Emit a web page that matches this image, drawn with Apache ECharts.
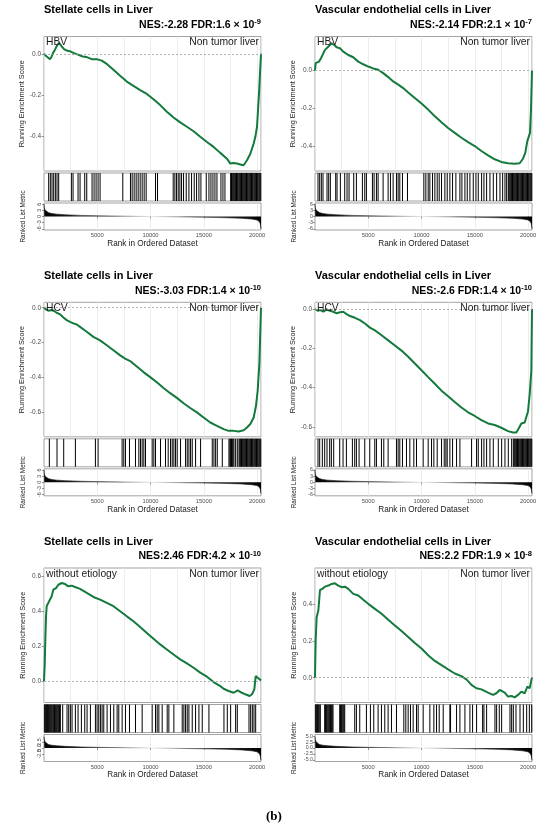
<!DOCTYPE html>
<html><head><meta charset="utf-8">
<script src="https://cdn.jsdelivr.net/npm/echarts@6/dist/echarts.min.js"></script>
<style>html,body{margin:0;padding:0;background:#fff}#c{width:550px;height:834px}</style>
</head><body><div id="c"></div>
<script>
// ---------- DATA ----------
const X_MAX = 20370; // number of ranked genes
const panelTitles = ['Stellate cells in Liver','Vascular endothelial cells in Liver','Stellate cells in Liver','Vascular endothelial cells in Liver','Stellate cells in Liver','Vascular endothelial cells in Liver'];
const nesTexts = ['NES:-2.28 FDR:1.6 × 10','NES:-2.14 FDR:2.1 × 10','NES:-3.03 FDR:1.4 × 10','NES:-2.6 FDR:1.4 × 10','NES:2.46 FDR:4.2 × 10','NES:2.2 FDR:1.9 × 10'];
const fdrExponents = ['-9','-7','-10','-10','-10','-8'];
const groupLabels = ['HBV','HBV','HCV','HCV','without etiology','without etiology'];
const controlLabel = 'Non tumor liver';
const xTicks = [5000,10000,15000,20000];
const esMin = [-0.569,-0.532,-0.74,-0.651,-0.123,-0.134];
const esMax = [0.084,0.18,0.031,0.034,0.648,0.594];
const esTicks = [[-0.4,-0.2,0],[-0.4,-0.2,0],[-0.6,-0.4,-0.2,0],[-0.6,-0.4,-0.2,0],[0,0.2,0.4,0.6],[0,0.2,0.4]];
const metricTicksRow = [[-6,-3,0,3,6],[-6,-3,0,3,6],[-5,-2.5,0,2.5,5]];
const metricRangeRow = [6.6,6.6,5.7];

const hbvStellateCurve = [[0,0],[251,-0.013],[564,-0.026],[721,-0.013],[877,0.007],[1034,0.02],[1254,0.044],[1442,0.052],[1661,0.036],[1880,0.023],[2131,0.016],[2507,0.011],[2821,0.003],[3228,-0.005],[3635,-0.013],[4012,-0.016],[4482,-0.026],[4952,-0.026],[5422,-0.033],[5892,-0.049],[6519,-0.078],[7146,-0.107],[7772,-0.135],[8399,-0.156],[9026,-0.176],[9653,-0.195],[10280,-0.221],[10906,-0.249],[11533,-0.281],[12160,-0.309],[12787,-0.333],[13414,-0.354],[14040,-0.376],[14667,-0.403],[15294,-0.428],[15921,-0.452],[16548,-0.481],[17175,-0.509],[17488,-0.533],[17802,-0.53],[18115,-0.533],[18429,-0.537],[18742,-0.541],[19055,-0.517],[19369,-0.485],[19682,-0.436],[19839,-0.403],[19996,-0.354],[20090,-0.273],[20184,-0.192],[20278,-0.094],[20370,0]];
const hbvVascularCurve = [[0,0],[62,0.039],[187,0.03],[375,0.047],[562,0.065],[781,0.091],[937,0.109],[1093,0.105],[1312,0.13],[1562,0.144],[1812,0.135],[2031,0.123],[2343,0.118],[2655,0.1],[3124,0.082],[3593,0.07],[4061,0.047],[4530,0.033],[4998,0.021],[5467,0.011],[5936,0.004],[6404,-0.014],[6873,-0.035],[7341,-0.058],[7810,-0.075],[8279,-0.093],[8747,-0.116],[9372,-0.146],[9997,-0.175],[10622,-0.207],[11246,-0.242],[11871,-0.274],[12496,-0.304],[13121,-0.33],[13745,-0.356],[14370,-0.379],[14995,-0.4],[15620,-0.426],[16245,-0.449],[16870,-0.47],[17494,-0.484],[18119,-0.491],[18744,-0.493],[19213,-0.491],[19525,-0.467],[19744,-0.435],[19931,-0.374],[20056,-0.365],[20181,-0.33],[20275,-0.207],[20369,0]];
const hcvStellateCurve = [[0,0],[188,-0.01],[407,-0.017],[564,-0.023],[721,-0.013],[940,-0.019],[1191,-0.029],[1504,-0.038],[1818,-0.056],[2131,-0.071],[2445,-0.081],[2758,-0.09],[3071,-0.096],[3385,-0.11],[4012,-0.138],[4638,-0.167],[5265,-0.187],[5892,-0.215],[6519,-0.244],[7146,-0.273],[7616,-0.292],[8086,-0.306],[8713,-0.337],[9339,-0.369],[9966,-0.398],[10593,-0.427],[11220,-0.46],[11847,-0.49],[12473,-0.517],[13100,-0.548],[13727,-0.575],[14354,-0.6],[14981,-0.629],[15608,-0.658],[16235,-0.677],[16862,-0.696],[17332,-0.706],[17802,-0.706],[18272,-0.71],[18742,-0.702],[19055,-0.687],[19369,-0.667],[19682,-0.629],[19902,-0.562],[20058,-0.475],[20215,-0.321],[20370,0]];
const hcvVascularCurve = [[0,0],[250,-0.009],[469,-0.005],[781,-0.014],[1093,-0.002],[1406,-0.009],[1718,-0.014],[2031,-0.022],[2343,-0.017],[2655,-0.014],[2968,-0.026],[3280,-0.036],[3749,-0.045],[4217,-0.057],[4686,-0.074],[5155,-0.095],[5623,-0.109],[6248,-0.134],[6873,-0.16],[7498,-0.186],[8122,-0.212],[8747,-0.243],[9372,-0.278],[9997,-0.312],[10622,-0.347],[11246,-0.381],[11871,-0.416],[12496,-0.445],[13121,-0.474],[13745,-0.502],[14370,-0.526],[14995,-0.545],[15620,-0.566],[16245,-0.583],[16870,-0.591],[17494,-0.605],[18119,-0.622],[18588,-0.629],[18900,-0.629],[19119,-0.609],[19369,-0.583],[19682,-0.578],[19838,-0.583],[19994,-0.522],[20150,-0.436],[20306,-0.316],[20369,0]];
const noEtStellateCurve = [[0,0],[63,0.086],[125,0.238],[188,0.371],[251,0.429],[407,0.448],[564,0.467],[721,0.486],[877,0.524],[1128,0.533],[1348,0.552],[1661,0.562],[1975,0.556],[2288,0.543],[2601,0.547],[2915,0.539],[3385,0.528],[4012,0.505],[4638,0.482],[5265,0.467],[5892,0.448],[6519,0.429],[7146,0.4],[7772,0.371],[8399,0.343],[9026,0.31],[9653,0.276],[10280,0.242],[10906,0.21],[11533,0.181],[12160,0.152],[12787,0.124],[13414,0.101],[14040,0.076],[14667,0.048],[15294,0.025],[15921,-0.006],[16548,-0.029],[16862,-0.044],[17332,-0.057],[17802,-0.067],[18178,-0.053],[18429,-0.063],[18899,-0.076],[19306,-0.086],[19525,-0.076],[19744,-0.048],[19870,0.029],[20058,0.019],[20370,0.004]];
const noEtVascularCurve = [[0,0],[62,0.203],[156,0.328],[312,0.364],[469,0.475],[687,0.481],[937,0.493],[1250,0.499],[1562,0.508],[1874,0.511],[2187,0.499],[2499,0.49],[2812,0.493],[3124,0.481],[3593,0.454],[4061,0.445],[4530,0.422],[4998,0.4],[5623,0.373],[6248,0.346],[6873,0.314],[7498,0.283],[8122,0.253],[8747,0.221],[9372,0.188],[9997,0.158],[10622,0.122],[11246,0.091],[11871,0.068],[12496,0.045],[13121,0.023],[13745,0.009],[14214,-0.009],[14683,-0.039],[15151,-0.057],[15620,-0.063],[16245,-0.081],[16713,-0.093],[17025,-0.084],[17338,-0.066],[17807,-0.081],[18119,-0.102],[18494,-0.099],[18744,-0.106],[19057,-0.093],[19369,-0.075],[19682,-0.084],[19931,-0.048],[20150,-0.057],[20306,-0.066],[20369,0.002]];

const hbvStellateHits = [439,595,752,909,1066,1222,1379,2570,2727,3197,3385,3823,4012,4513,4701,4889,5077,5265,7396,8117,8274,8462,8650,8838,9026,9214,9402,9590,10468,10656,12129,12285,12442,12599,12755,12912,13100,13351,13602,13852,14103,14322,14542,14730,15231,15482,15670,15858,16046,16234,16610,16798,16986,17519,17600,17676,17760,17832,17910,17989,18070,18146,18220,18303,18380,18459,18540,18616,18700,18773,18850,18930,19010,19086,19160,19243,19320,19399,19480,19556,19630,19712,19790,19869,19950,20026,20100,20183,20260,20340];
const hbvVascularHits = [282,439,595,752,1128,1285,1442,1943,2068,2382,2789,3009,3197,3635,3886,4450,4670,4826,5390,5547,5767,5923,6393,6863,7083,7334,7647,7804,7960,8211,8681,10217,10405,10624,10781,11032,11251,11470,11658,11878,12191,12411,12661,12912,13225,13602,13790,14072,14291,14542,14855,15106,15325,15639,15858,16109,16422,16736,17049,17362,17613,17832,17989,18146,18220,18303,18380,18459,18540,18616,18700,18773,18850,18930,19010,19086,19160,19243,19320,19399,19480,19556,19630,19712,19790,19869,19950,20026,20100,20183,20260,20340];
const hcvStellateHits = [501,1222,1849,2946,4826,5077,7334,7490,7647,8023,8587,8901,9057,9214,9371,9527,10154,10311,10468,10938,11408,11658,11878,12035,12191,12348,12505,12818,13288,13445,13602,13758,13915,14228,14698,15795,15952,16109,16265,16736,17362,17450,17519,17600,17676,17750,17832,17989,18146,18303,18380,18459,18540,18616,18700,18773,18850,18930,19010,19086,19160,19243,19320,19399,19480,19556,19630,19712,19790,19869,19950,20026,20100,20183,20260,20340];
const hcvVascularHits = [282,439,689,909,1128,1379,1536,1755,2319,2633,2946,3510,3729,3886,4137,4670,5140,5610,5767,6237,6456,6863,7647,7804,7960,8211,8587,8901,9277,9527,10154,10624,10938,11157,11470,11878,12129,12285,12411,12661,12912,13288,13602,14698,15168,15325,15639,15858,16109,16422,16736,17206,17519,17832,18146,18459,18616,18700,18773,18850,18930,19010,19086,19160,19243,19320,19399,19480,19556,19630,19712,19790,19869,19950,20026,20100,20183,20260,20340];
const noEtStellateHits = [63,120,188,250,313,370,439,500,595,680,752,830,909,990,1066,1150,1222,1300,1379,1460,1536,1755,2162,2319,2476,2633,2946,3197,3510,3823,4043,4356,4826,4983,5140,5296,5453,5610,5923,6237,6550,6863,7020,7334,7647,8023,8587,9214,10154,10468,10624,10781,11094,11565,11721,12191,12975,13131,13288,13445,13602,13915,14228,14542,14855,15482,16892,17206,17519,17989,18146,19243,19399,19556,19712,19869];
const noEtVascularHits = [63,120,188,250,313,400,501,909,980,1066,1140,1222,1300,1379,1460,1536,1620,1692,2319,2400,2476,2550,2633,2710,2789,3729,3886,4200,4826,5202,5516,5923,6237,6550,6863,7177,7647,8336,8524,8744,8963,9214,9527,9684,10154,10781,11157,11408,11658,12035,12661,12724,13288,13602,14072,14542,14792,15168,15733,15858,16109,16892,17049,17300,17519,18303,18459,18616,18867,19243,19556,19869,20120,20340];

const metricRanks = [0,30,100,200,400,700,1200,2000,3500,5000,7500,10000,12500,15000,17000,18500,19500,20000,20200,20300,20370];
const hbvMetric = [6.0,4.2,3.2,2.5,1.9,1.5,1.15,0.85,0.55,0.38,0.17,0.0,-0.17,-0.38,-0.6,-0.85,-1.25,-1.7,-2.4,-3.5,-6.0];
const hcvMetric = [6.0,4.0,3.0,2.4,1.8,1.4,1.05,0.8,0.5,0.35,0.15,0.0,-0.15,-0.35,-0.55,-0.8,-1.2,-1.6,-2.3,-3.3,-5.5];
const noEtMetric = [4.8,3.5,2.6,2.0,1.5,1.2,0.95,0.7,0.45,0.3,0.13,0.0,-0.15,-0.35,-0.55,-0.8,-1.2,-1.6,-2.3,-3.3,-5.2];

const panelCurves = [hbvStellateCurve,hbvVascularCurve,hcvStellateCurve,hcvVascularCurve,noEtStellateCurve,noEtVascularCurve];
const panelHits = [hbvStellateHits,hbvVascularHits,hcvStellateHits,hcvVascularHits,noEtStellateHits,noEtVascularHits];
const rowMetrics = [hbvMetric,hcvMetric,noEtMetric];

// ---------- LAYOUT ----------
const FONT = 'Liberation Sans, Arial, Helvetica, sans-serif';
const colLeft = [44,315], panelW = 217, rowTop = [36.5,302.3,568];
const mainH = 134.5, hitsOff = 136.5, hitsH = 28, rankOff = 166.5, rankH = 27;
const BORDER = '#8c8c8c', GREEN = '#137a3c', LABEL = '#4d4d4d';
const grid = [], xAxis = [], yAxis = [], series = [], title = [];

for (let i = 0; i < 6; i++) {
  const col = i % 2, row = Math.floor(i / 2);
  const L = colLeft[col], T = rowTop[row], g = i * 3;
  const gbase = {left: L, width: panelW, show: true, borderColor: BORDER, borderWidth: 0.8, backgroundColor: '#fff'};
  grid.push(Object.assign({top: T, height: mainH}, gbase));
  grid.push(Object.assign({top: T + hitsOff, height: hitsH}, gbase));
  grid.push(Object.assign({top: T + rankOff, height: rankH}, gbase));

  // main panel
  xAxis.push({type: 'value', gridIndex: g, min: 0, max: X_MAX, interval: 2500,
    axisLine: {show: false}, axisTick: {show: false}, axisLabel: {show: false},
    splitLine: {show: true, lineStyle: {color: '#e8e8e8', width: 0.8}}});
  yAxis.push({type: 'value', gridIndex: g, min: esMin[i], max: esMax[i],
    axisLine: {show: false},
    axisTick: {show: true, length: 2.5, customValues: esTicks[i], lineStyle: {color: '#555', width: 0.6}},
    axisLabel: {customValues: esTicks[i], formatter: v => v.toFixed(1), fontSize: 6.5, color: LABEL, margin: 3, fontFamily: FONT},
    splitLine: {show: false},
    name: 'Running Enrichment Score', nameLocation: 'middle', nameGap: 17.5,
    nameTextStyle: {fontSize: 7.3, color: '#1a1a1a', fontFamily: FONT}});
  // hits panel
  xAxis.push({type: 'value', gridIndex: g + 1, min: 0, max: X_MAX, show: false});
  yAxis.push({type: 'value', gridIndex: g + 1, min: 0, max: 1, show: false});
  // ranked metric panel
  const mr = metricRangeRow[row];
  xAxis.push({type: 'value', gridIndex: g + 2, min: 0, max: X_MAX, interval: 2500,
    axisLine: {show: false},
    axisTick: {show: true, length: 2, customValues: xTicks, lineStyle: {color: '#555', width: 0.6}},
    axisLabel: {customValues: xTicks, formatter: v => String(Math.round(v)), fontSize: 5.8, color: LABEL, margin: 2.5, fontFamily: FONT},
    splitLine: {show: true, lineStyle: {color: '#e8e8e8', width: 0.8}},
    name: 'Rank in Ordered Dataset', nameLocation: 'middle', nameGap: 9.5,
    nameTextStyle: {fontSize: 8.2, color: '#1a1a1a', fontFamily: FONT}});
  yAxis.push({type: 'value', gridIndex: g + 2, min: -mr, max: mr,
    axisLine: {show: false},
    axisTick: {show: true, length: 2, customValues: metricTicksRow[row], lineStyle: {color: '#555', width: 0.6}},
    axisLabel: {customValues: metricTicksRow[row], formatter: v => row === 2 ? v.toFixed(1) : String(v),
      fontSize: 5.3, color: LABEL, margin: 2, rotate: col === 0 ? 90 : 0, fontFamily: FONT},
    splitLine: {show: false},
    name: 'Ranked List Metric', nameLocation: 'middle', nameGap: 17.5,
    nameTextStyle: {fontSize: 6.3, color: '#1a1a1a', fontFamily: FONT}});

  series.push({type: 'line', xAxisIndex: g, yAxisIndex: g, data: panelCurves[i], showSymbol: false,
    lineStyle: {color: GREEN, width: 2}, z: 3, silent: true,
    markLine: {silent: true, symbol: 'none', label: {show: false}, animation: false,
      lineStyle: {type: [2, 2], color: '#a0a0a0', width: 0.8}, data: [{yAxis: 0}]}});
  series.push({type: 'bar', xAxisIndex: g + 1, yAxisIndex: g + 1, barWidth: 1, silent: true,
    itemStyle: {color: '#000'}, data: panelHits[i].map(r => [r, 1])});
  const grad = new echarts.graphic.LinearGradient(0, 0, 1, 0, [
    {offset: 0, color: '#000'}, {offset: 0.35, color: '#555'}, {offset: 0.5, color: '#d8d8d8'},
    {offset: 0.65, color: '#555'}, {offset: 1, color: '#000'}]);
  series.push({type: 'line', xAxisIndex: g + 2, yAxisIndex: g + 2, showSymbol: false, silent: true,
    data: metricRanks.map((r, j) => [r, rowMetrics[row][j]]),
    lineStyle: {color: grad, width: 0.6}, areaStyle: {color: grad, opacity: 1, origin: 0}});

  // texts
  title.push({text: panelTitles[i], left: L, top: T - 33.5, padding: 0,
    textStyle: {fontSize: 11, fontWeight: 'bold', color: '#000', lineHeight: 14, fontFamily: FONT}});
  title.push({text: '{m|' + nesTexts[i] + '}{s|' + fdrExponents[i] + '}', right: 550 - (L + panelW), top: T - 18.5, padding: 0,
    textStyle: {fontFamily: FONT, rich: {
      m: {fontSize: 10.5, fontWeight: 'bold', color: '#000', lineHeight: 14, fontFamily: FONT},
      s: {fontSize: 7.5, fontWeight: 'bold', color: '#000', lineHeight: 8, verticalAlign: 'top', fontFamily: FONT}}}});
  title.push({text: groupLabels[i], left: L + 2, top: T - 0.5, padding: 0,
    textStyle: {fontSize: 10.3, fontWeight: 'normal', color: '#1a1a1a', lineHeight: 13, fontFamily: FONT}});
  title.push({text: controlLabel, right: 550 - (L + panelW - 2), top: T - 0.5, padding: 0,
    textStyle: {fontSize: 10.3, fontWeight: 'normal', color: '#1a1a1a', lineHeight: 13, fontFamily: FONT}});
}
title.push({text: '{p|(}{b|b}{p|)}', left: 266, top: 809, padding: 0,
  textStyle: {rich: {p: {fontFamily: 'Liberation Serif', fontSize: 13, color: '#000', lineHeight: 16},
    b: {fontFamily: 'Liberation Serif', fontSize: 13, fontWeight: 'bold', color: '#000', lineHeight: 16}}}});

const chart = echarts.init(document.getElementById('c'));
chart.setOption({animation: false, backgroundColor: '#fff', textStyle: {fontFamily: FONT},
  title, grid, xAxis, yAxis, series});
</script></body></html>
